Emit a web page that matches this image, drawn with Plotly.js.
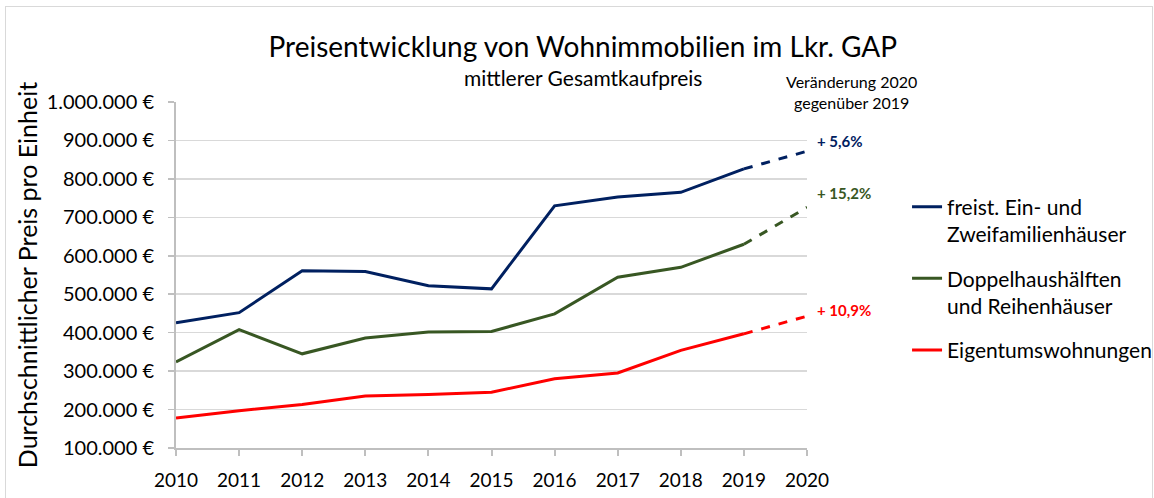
<!DOCTYPE html>
<html>
<head>
<meta charset="utf-8">
<script src="https://cdn.plot.ly/plotly-3.0.1.min.js"></script>
<style>
html,body{margin:0;padding:0;background:#fff;}
#wrap{position:relative;width:1154px;height:498px;}
#chart{width:1154px;height:498px;}
#frame{position:absolute;left:5px;top:6px;width:1146px;height:500px;border:1px solid #d9d9d9;pointer-events:none;}
</style>
</head>
<body>
<div id="wrap"><div id="chart"></div><div id="frame"></div></div>
<script>
const years = [2010, 2011, 2012, 2013, 2014, 2015, 2016, 2017, 2018, 2019];
const forecastYears = [2019, 2020];
const efh = [426000, 452000, 561000, 559000, 522000, 514000, 730000, 753000, 765000, 826000];
const efh2020 = 872000;
const dhh = [324000, 408000, 345000, 386000, 402000, 403000, 449000, 544000, 570000, 630000];
const dhh2020 = 726000;
const etw = [178000, 197000, 213000, 235000, 239000, 245000, 280000, 295000, 354000, 397000];
const etw2020 = 443000;
const names = ['freist. Ein- und<br>Zweifamilienhäuser', 'Doppelhaushälften<br>und Reihenhäuser', 'Eigentumswohnungen'];
const changes = ['+ 5,6%', '+ 15,2%', '+ 10,9%'];
const colors = ['#002060', '#385723', '#FF0000'];
const tickYears = [2010, 2011, 2012, 2013, 2014, 2015, 2016, 2017, 2018, 2019, 2020];
const yTicks = [100000, 200000, 300000, 400000, 500000, 600000, 700000, 800000, 900000, 1000000];

function fmtEuro(v) {
  return String(v).replace(/\B(?=(\d{3})+(?!\d))/g, '.') + ' \u20AC';
}

const FONT = 'Lato, "Open Sans", sans-serif';
const series = [[efh, efh2020], [dhh, dhh2020], [etw, etw2020]];
const traces = [];
series.forEach((s, i) => {
  traces.push({x: years, y: s[0], type: 'scatter', mode: 'lines', name: names[i],
    legendgroup: 'g' + i,
    line: {color: colors[i], width: 3}, hoverinfo: 'skip'});
});
series.forEach((s, i) => {
  traces.push({x: forecastYears, y: [s[0][s[0].length - 1], s[1]], type: 'scatter', mode: 'lines',
    showlegend: false, legendgroup: 'g' + i,
    line: {color: colors[i], width: 3, dash: 'dash'}, hoverinfo: 'skip'});
});

const labelY = [0.887, 0.737, 0.399];
const annotations = changes.map((t, i) => ({
  text: '<b>' + t + '</b>', xref: 'paper', yref: 'paper', x: 1.013, y: labelY[i],
  xanchor: 'left', yanchor: 'middle', showarrow: false,
  font: {family: FONT, size: 15, color: colors[i]}
}));
annotations.push({text: 'Veränderung 2020<br>gegenüber 2019', xref: 'paper', yref: 'paper',
  x: 1.07, y: 1.03, xanchor: 'center', yanchor: 'middle', showarrow: false,
  font: {family: FONT, size: 16, color: '#000'}});
annotations.push({text: 'mittlerer Gesamtkaufpreis', xref: 'paper', yref: 'paper',
  x: 0.645, y: 1.072, xanchor: 'center', yanchor: 'middle', showarrow: false,
  font: {family: FONT, size: 21, color: '#000'}});

const layout = {
  width: 1154, height: 498,
  margin: {l: 176, r: 347, t: 102, b: 50},
  paper_bgcolor: '#fff', plot_bgcolor: '#fff',
  font: {family: FONT, color: '#000'},
  title: {text: 'Preisentwicklung von Wohnimmobilien im Lkr. GAP', x: 0.505, xanchor: 'center',
    y: 0.905, yref: 'container', yanchor: 'middle', font: {family: FONT, size: 28, color: '#000'}},
  xaxis: {range: [2010, 2020], tickvals: tickYears, ticktext: tickYears.map(String),
    showgrid: false, zeroline: false, showline: true, linecolor: '#bfbfbf', linewidth: 2,
    ticks: 'outside', ticklen: 6, tickcolor: '#bfbfbf', tickwidth: 2, ticklabelstandoff: 8,
    tickfont: {family: FONT, size: 19, color: '#000'}, fixedrange: true},
  yaxis: {range: [100000, 1000000], tickvals: yTicks, ticktext: yTicks.map(fmtEuro),
    showgrid: true, gridcolor: '#d9d9d9', gridwidth: 1.5, zeroline: false,
    showline: true, linecolor: '#bfbfbf', linewidth: 2,
    ticks: 'outside', ticklen: 6, tickcolor: '#bfbfbf', tickwidth: 1.5, ticklabelstandoff: 10,
    tickfont: {family: FONT, size: 20, color: '#000'},
    title: {text: 'Durchschnittlicher Preis pro Einheit', font: {family: FONT, size: 25, color: '#000'}, standoff: 2},
    fixedrange: true},
  legend: {xref: 'container', yref: 'container', x: 0.786, y: 0.6253, xanchor: 'left', yanchor: 'top', valign: 'top',
    font: {family: FONT, size: 21, color: '#000'}, tracegroupgap: 14, itemwidth: 30,
    bgcolor: 'rgba(0,0,0,0)'},
  annotations: annotations,
  showlegend: true
};
Plotly.newPlot('chart', traces, layout, {displayModeBar: false, staticPlot: true});
</script>
</body>
</html>
